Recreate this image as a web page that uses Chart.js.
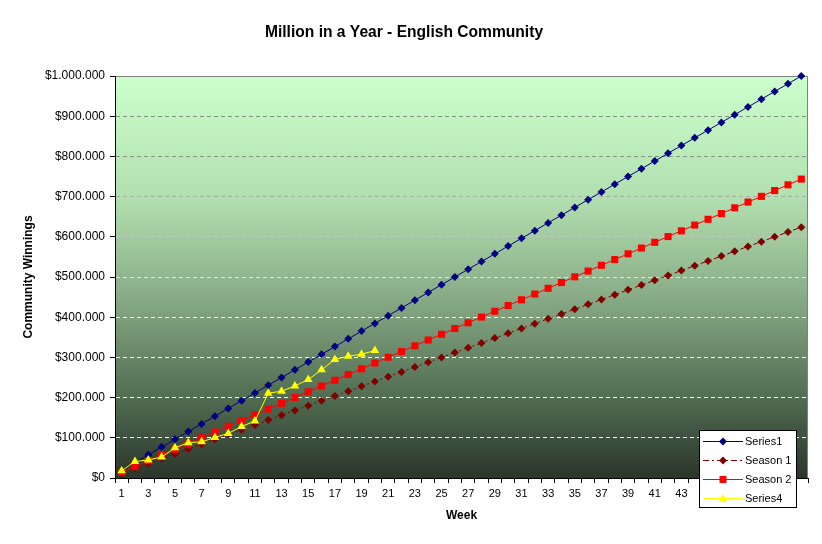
<!DOCTYPE html>
<html>
<head>
<meta charset="utf-8">
<title>Million in a Year - English Community</title>
<script src="https://cdn.jsdelivr.net/npm/chart.js@4.4.1/dist/chart.umd.min.js"></script>
<style>
  html, body { margin: 0; padding: 0; background: #fff; }
  #wrap { width: 822px; height: 544px; }
</style>
</head>
<body>
<div id="wrap"><canvas id="millionChart" width="822" height="544"></canvas></div>
<script>
const weeks = ["1","2","3","4","5","6","7","8","9","10","11","12","13","14","15","16","17","18","19","20",
  "21","22","23","24","25","26","27","28","29","30","31","32","33","34","35","36","37","38","39","40",
  "41","42","43","44","45","46","47","48","49","50","51","52"];

const series1 = [19231, 38462, 57692, 76923, 96154, 115385, 134615, 153846, 173077, 192308,
  211538, 230769, 250000, 269231, 288462, 307692, 326923, 346154, 365385, 384615,
  403846, 423077, 442308, 461538, 480769, 500000, 519231, 538462, 557692, 576923,
  596154, 615385, 634615, 653846, 673077, 692308, 711538, 730769, 750000, 769231,
  788462, 807692, 826923, 846154, 865385, 884615, 903846, 923077, 942308, 961538,
  980769, 1000000];

const season1 = [12000, 24000, 36000, 48000, 60000, 72000, 84000, 96000, 108000, 120000,
  132000, 144000, 156000, 168000, 180000, 192000, 204000, 216000, 228000, 240000,
  252000, 264000, 276000, 288000, 300000, 312000, 324000, 336000, 348000, 360000,
  372000, 384000, 396000, 408000, 420000, 432000, 444000, 456000, 468000, 480000,
  492000, 504000, 516000, 528000, 540000, 552000, 564000, 576000, 588000, 600000,
  612000, 624000];

const season2 = [14300, 28600, 42900, 57200, 71500, 85800, 100100, 114400, 128700, 143000,
  157300, 171600, 185900, 200200, 214500, 228800, 243100, 257400, 271700, 286000,
  300300, 314600, 328900, 343200, 357500, 371800, 386100, 400400, 414700, 429000,
  443300, 457600, 471900, 486200, 500500, 514800, 529100, 543400, 557700, 572000,
  586300, 600600, 614900, 629200, 643500, 657800, 672100, 686400, 700700, 715000,
  729300, 743600];

const series4 = [18000, 41000, 45000, 52000, 75000, 88000, 90000, 101000, 111000, 128000,
  142000, 211000, 216000, 229000, 245000, 269000, 295000, 303000, 308000, 317000];

const seriesNames = ["Series1", "Season 1", "Season 2", "Series4"];

Chart.defaults.font.family = "'Liberation Sans', Arial, sans-serif";
Chart.defaults.color = "#000";

function money(v) {
  return "$" + String(v).replace(/\B(?=(\d{3})+(?!\d))/g, ".");
}

// grid lines go from white at the bottom to grey near the top
function gridColor(ctx) {
  const v = ctx.tick ? ctx.tick.value : 0;
  if (v >= 1000000) return "rgba(0,0,0,0)";
  let t = (v - 400000) / 400000;
  t = Math.max(0, Math.min(1, t));
  const r = Math.round(255 - (255 - 130) * t);
  const g = Math.round(255 - (255 - 145) * t);
  const b = Math.round(255 - (255 - 130) * t);
  return `rgb(${r},${g},${b})`;
}

const plotBack = {
  id: "plotBack",
  beforeDraw(chart) {
    const {ctx, chartArea: a} = chart;
    ctx.save();
    ctx.fillStyle = "#fff";
    ctx.fillRect(0, 0, chart.width, chart.height);
    const grad = ctx.createLinearGradient(0, a.top, 0, a.bottom);
    grad.addColorStop(0, "#ccffcc");
    grad.addColorStop(0.3, "#b2e0b0");
    grad.addColorStop(0.53, "#8cb08a");
    grad.addColorStop(0.81, "#4f6a50");
    grad.addColorStop(1, "#2b352b");
    ctx.fillStyle = grad;
    ctx.fillRect(a.left, a.top, a.right - a.left, a.bottom - a.top);
    ctx.strokeStyle = "#808080";
    ctx.lineWidth = 1;
    ctx.beginPath();
    ctx.moveTo(a.left, a.top + 0.5);
    ctx.lineTo(a.right - 0.5, a.top + 0.5);
    ctx.lineTo(a.right - 0.5, a.bottom);
    ctx.stroke();
    ctx.restore();
  }
};

function marker(ctx, style, x, y, color) {
  ctx.fillStyle = color;
  ctx.beginPath();
  if (style === "rectRot") {
    ctx.moveTo(x, y - 4); ctx.lineTo(x + 4, y); ctx.lineTo(x, y + 4); ctx.lineTo(x - 4, y);
  } else if (style === "rect") {
    ctx.rect(x - 3.5, y - 3.5, 7, 7);
  } else {
    ctx.moveTo(x, y - 4.5); ctx.lineTo(x + 4.5, y + 3.5); ctx.lineTo(x - 4.5, y + 3.5);
  }
  ctx.closePath();
  ctx.fill();
}

const boxLegend = {
  id: "boxLegend",
  afterDraw(chart) {
    const ctx = chart.ctx;
    const bx = 699.5, by = 430.5, bw = 97, bh = 77;
    ctx.save();
    ctx.fillStyle = "#fff";
    ctx.fillRect(bx, by, bw, bh);
    ctx.strokeStyle = "#000";
    ctx.lineWidth = 1;
    ctx.strokeRect(bx, by, bw, bh);
    ctx.font = "11px 'Liberation Sans', Arial, sans-serif";
    ctx.textBaseline = "middle";
    chart.data.datasets.forEach((ds, i) => {
      const y = 441 + i * 19;
      ctx.strokeStyle = ds.borderColor;
      ctx.lineWidth = 1;
      ctx.setLineDash(ds.borderDash || []);
      ctx.beginPath();
      ctx.moveTo(703, y + 0.5);
      ctx.lineTo(743, y + 0.5);
      ctx.stroke();
      ctx.setLineDash([]);
      marker(ctx, ds.pointStyle, 723, y + 0.5, ds.pointBackgroundColor);
      ctx.fillStyle = "#000";
      ctx.fillText(ds.label, 745, y + 1);
    });
    ctx.restore();
  }
};

new Chart("millionChart", {
  type: "line",
  data: {
    labels: weeks,
    datasets: [{
      label: seriesNames[0],
      data: series1,
      borderColor: "#000080",
      borderWidth: 1,
      pointStyle: "rectRot",
      pointRadius: 4,
      pointBackgroundColor: "#000080",
      pointBorderColor: "#000080",
      pointBorderWidth: 0,
      order: 3,
      clip: 8
    }, {
      label: seriesNames[1],
      data: season1,
      borderColor: "#800000",
      borderWidth: 1,
      borderDash: [6, 3, 2, 3],
      pointStyle: "rectRot",
      pointRadius: 4,
      pointBackgroundColor: "#800000",
      pointBorderColor: "#800000",
      pointBorderWidth: 0,
      order: 2,
      clip: 8
    }, {
      label: seriesNames[2],
      data: season2,
      borderColor: "#ff0000",
      borderWidth: 1,
      pointStyle: "rect",
      pointRadius: 5,
      pointBackgroundColor: "#ff0000",
      pointBorderColor: "#ff0000",
      pointBorderWidth: 0,
      order: 1,
      clip: 8
    }, {
      label: seriesNames[3],
      data: series4,
      borderColor: "#ffff00",
      borderWidth: 1,
      pointStyle: "triangle",
      pointRadius: 5,
      pointBackgroundColor: "#ffff00",
      pointBorderColor: "#ffff00",
      pointBorderWidth: 0,
      order: 0,
      clip: 8
    }]
  },
  options: {
    responsive: false,
    animation: false,
    layout: { padding: { left: 0, right: 14, top: 0, bottom: 0 } },
    plugins: {
      legend: { display: false },
      tooltip: { enabled: false },
      title: {
        display: true,
        text: "Million in a Year - English Community",
        font: { size: 15.6, weight: "bold" },
        color: "#000",
        padding: { top: 23, bottom: 34.3 }
      }
    },
    scales: {
      x: {
        type: "category",
        offset: true,
        grid: {
          offset: true,
          drawOnChartArea: false,
          drawTicks: true,
          tickLength: 5,
          tickColor: "#000"
        },
        border: { color: "#000", width: 1 },
        ticks: {
          autoSkip: false,
          maxRotation: 0,
          padding: 4,
          font: { size: 11 },
          callback: function (val, index) {
            return index % 2 === 0 ? this.getLabelForValue(val) : "";
          }
        },
        title: {
          display: true,
          text: "Week",
          font: { size: 12, weight: "bold" },
          padding: { top: 0, bottom: 21 }
        },
        afterFit(scale) { scale.height = 66; }
      },
      y: {
        min: 0,
        max: 1000000,
        grid: {
          color: gridColor,
          tickColor: "#000",
          tickLength: 5,
          lineWidth: 1
        },
        border: { color: "#000", width: 1, dash: [4, 3] },
        ticks: {
          stepSize: 100000,
          padding: 5,
          font: { size: 12 },
          callback: (v) => money(v)
        },
        title: {
          display: true,
          text: "Community Winnings",
          font: { size: 12, weight: "bold" },
          padding: { top: 21, bottom: 0 }
        },
        afterFit(scale) { scale.width = 115; }
      }
    }
  },
  plugins: [plotBack, boxLegend]
});
</script>
</body>
</html>
